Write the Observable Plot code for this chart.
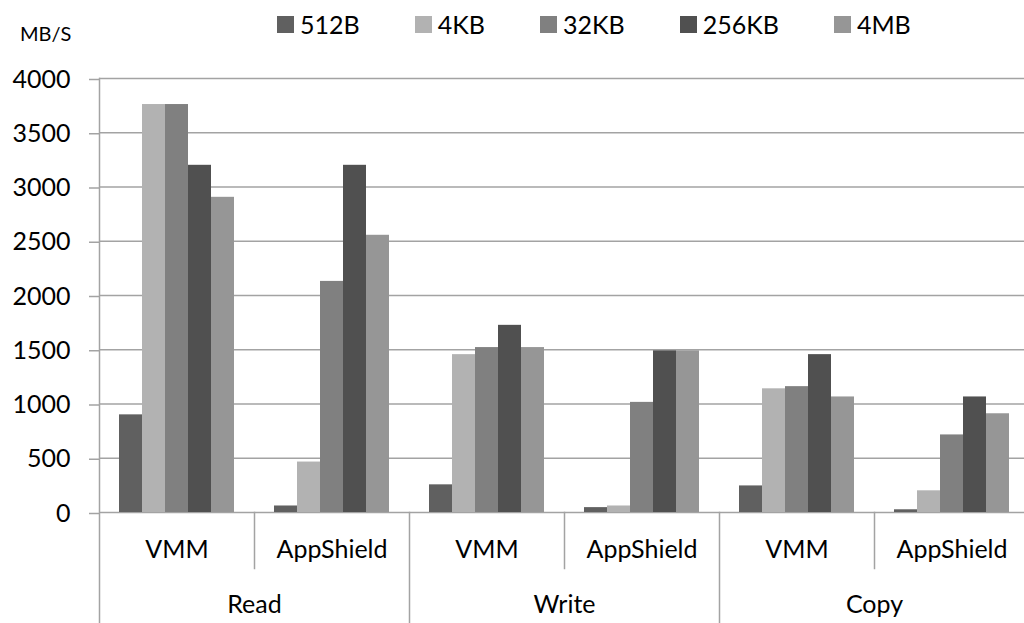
<!DOCTYPE html>
<html>
<head>
<meta charset="utf-8">
<script src="https://cdn.jsdelivr.net/npm/d3@7"></script>
<script src="https://cdn.jsdelivr.net/npm/@observablehq/plot@0.6"></script>
<style>
  body { margin: 0; background: #fff; font-family: Lato, sans-serif; overflow: hidden; }
  #wrap { position: relative; width: 1024px; height: 623px; }
  #chart { position: absolute; left: 0; top: 0; }
  #unit { position: absolute; left: 20px; top: 21px; font-size: 20px; color: #000; }
  #legend { position: absolute; left: 277px; top: 9px; display: flex; gap: 55px; font-size: 25px; color: #000; }
  #legend .item { display: flex; align-items: center; gap: 6px; }
  #legend .sw { width: 17px; height: 17px; display: inline-block; }
</style>
</head>
<body>
<div id="wrap">
  <div id="chart"></div>
  <div id="unit">MB/S</div>
  <div id="legend"></div>
</div>
<script>
// Categories
const operations = ["Read", "Write", "Copy"];
const systems = ["VMM", "AppShield"];
const sizes = ["512B", "4KB", "32KB", "256KB", "4MB"];
const sizeColors = ["#606060", "#b2b2b2", "#808080", "#505050", "#969696"];

// Series values, in order Read-VMM, Read-AppShield, Write-VMM, Write-AppShield, Copy-VMM, Copy-AppShield
const values512B  = [900, 60, 255, 45, 245, 25];
const values4KB   = [3760, 465, 1455, 60, 1140, 200];
const values32KB  = [3760, 2130, 1520, 1015, 1160, 715];
const values256KB = [3200, 3200, 1725, 1490, 1455, 1065];
const values4MB   = [2905, 2555, 1520, 1490, 1065, 910];

const yTicks = [0, 500, 1000, 1500, 2000, 2500, 3000, 3500, 4000];

// Build table
const groups = [];
operations.forEach(op => systems.forEach(sys => groups.push({key: op + "|" + sys, op, sys})));
const seriesValues = [values512B, values4KB, values32KB, values256KB, values4MB];
const rows = [];
groups.forEach((g, gi) => sizes.forEach((s, si) => rows.push({key: g.key, size: s, value: seriesValues[si][gi]})));

const W = 1024, H = 623, mT = 78, mB = 111, mL = 97, mR = -6;
const lineColor = "#a3a3a3";

const dividers = groups.map((g, i) => Plot.frame({
  fx: [g.key],
  anchor: "left",
  stroke: lineColor,
  strokeWidth: 1.5,
  insetTop: i === 0 ? 0 : H - mT - mB,
  insetBottom: g.sys === "VMM" ? -mB : -56
}));

const chart = Plot.plot({
  width: W, height: H,
  marginTop: mT, marginBottom: mB, marginLeft: mL, marginRight: mR,
  style: {fontFamily: "Lato, sans-serif", fontSize: "25px", background: "transparent"},
  fx: {domain: groups.map(g => g.key), padding: 0, axis: null, label: null},
  x: {domain: sizes, paddingInner: 0, paddingOuter: 0.77, axis: null, label: null},
  y: {domain: [0, 4000], axis: null, label: null},
  color: {domain: sizes, range: sizeColors},
  marks: [
    Plot.ruleY(yTicks, {stroke: lineColor, strokeWidth: 1.5}),
    Plot.barY(rows, {fx: "key", x: "size", y: "value", fill: "size"}),
    Plot.axisY({ticks: yTicks, tickSize: 10, tickPadding: 19, fontSize: 25, stroke: lineColor, strokeWidth: 1.5, label: null, tickFormat: d => String(d), dy: 1}),
    ...dividers,
    Plot.text(groups, {fx: "key", text: "sys", frameAnchor: "bottom", dy: 45, fontSize: 25}),
    Plot.text(groups.filter(g => g.sys === "VMM"), {fx: "key", text: "op", frameAnchor: "bottom-right", textAnchor: "middle", dy: 100, fontSize: 25})
  ]
});
document.getElementById("chart").appendChild(chart);

const legend = document.getElementById("legend");
sizes.forEach((s, i) => {
  const item = document.createElement("div");
  item.className = "item";
  const sw = document.createElement("span");
  sw.className = "sw";
  sw.style.background = sizeColors[i];
  const t = document.createElement("span");
  t.textContent = s;
  item.appendChild(sw);
  item.appendChild(t);
  legend.appendChild(item);
});
</script>
</body>
</html>
